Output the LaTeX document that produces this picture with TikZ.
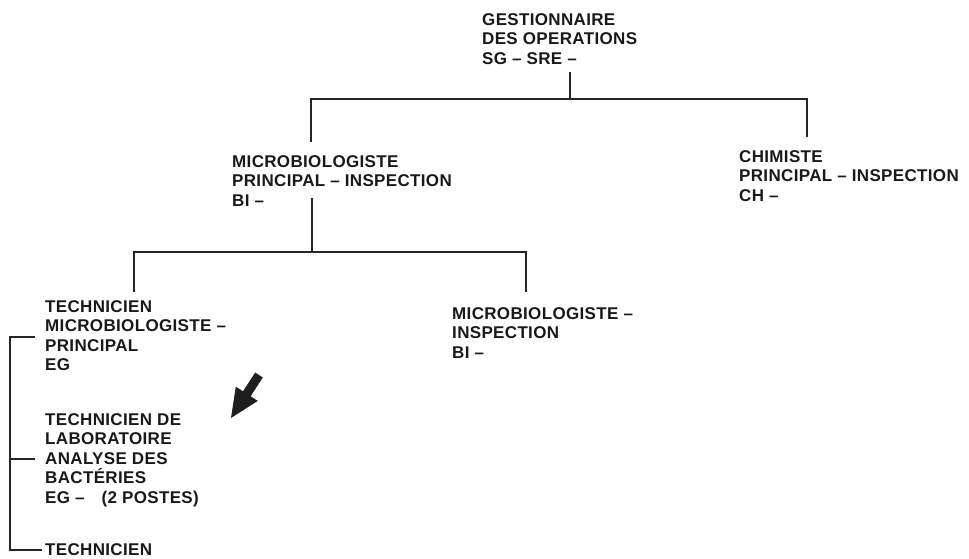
\documentclass[tikz,border=0pt]{standalone}
\usepackage{fontspec}
\setmainfont{Liberation Sans}[LetterSpace=2]
\begin{document}
\begin{tikzpicture}[x=1pt,y=1pt,
  lbl/.style={anchor=north west,inner sep=0pt,align=left,text=black!90,
    font=\fontsize{17}{19.6}\selectfont\bfseries},
  conn/.style={line width=1.6pt,draw=black!85}]
\useasboundingbox (0,0) rectangle (969,558);
\node[lbl] (top) at (482,545) {GESTIONNAIRE\\DES OPERATIONS\\SG -- SRE --};
\node[lbl] (mp) at (232,403) {MICROBIOLOGISTE\\PRINCIPAL -- INSPECTION\\BI --};
\node[lbl] (ch) at (739,408) {CHIMISTE\\PRINCIPAL -- INSPECTION\\CH --};
\node[lbl] (tm) at (45,258) {TECHNICIEN\\MICROBIOLOGISTE --\\PRINCIPAL\\EG};
\node[lbl] (mi) at (452,251) {MICROBIOLOGISTE --\\INSPECTION\\BI --};
\node[lbl] (tl) at (45,145) {TECHNICIEN DE\\LABORATOIRE\\ANALYSE DES\\BACTÉRIES\\EG --\quad(2 POSTES)};
\node[lbl] (tt) at (45,15) {TECHNICIEN};
% junctions
\coordinate (a0) at (570,486);
\coordinate (a1) at (570,459);
\coordinate (aL) at (311,416);
\coordinate (aR) at (807,421);
\coordinate (b0) at (312,360);
\coordinate (b1) at (312,306);
\coordinate (bL) at (134,266);
\coordinate (bR) at (526,266);
\coordinate (c0) at (35,221);
\coordinate (c1) at (35,99);
\coordinate (c2) at (42,8);
\coordinate (cx) at (10,0);
\draw[conn] (a0) -- (a1);
\draw[conn] (aL) |- (a1) -| (aR);
\draw[conn] (b0) -- (b1);
\draw[conn] (bL) |- (b1) -| (bR);
\draw[conn] (c0) -| (cx |- c2) -- (c2);
\draw[conn] (cx |- c1) -- (c1);
% arrow
\fill[black!88] (262.8,180.5) -- (250.6,161.7) -- (257.8,157.1) -- (231,140)
  -- (235.8,171.3) -- (243.0,166.7) -- (255.2,185.5) -- cycle;
\end{tikzpicture}
\end{document}
